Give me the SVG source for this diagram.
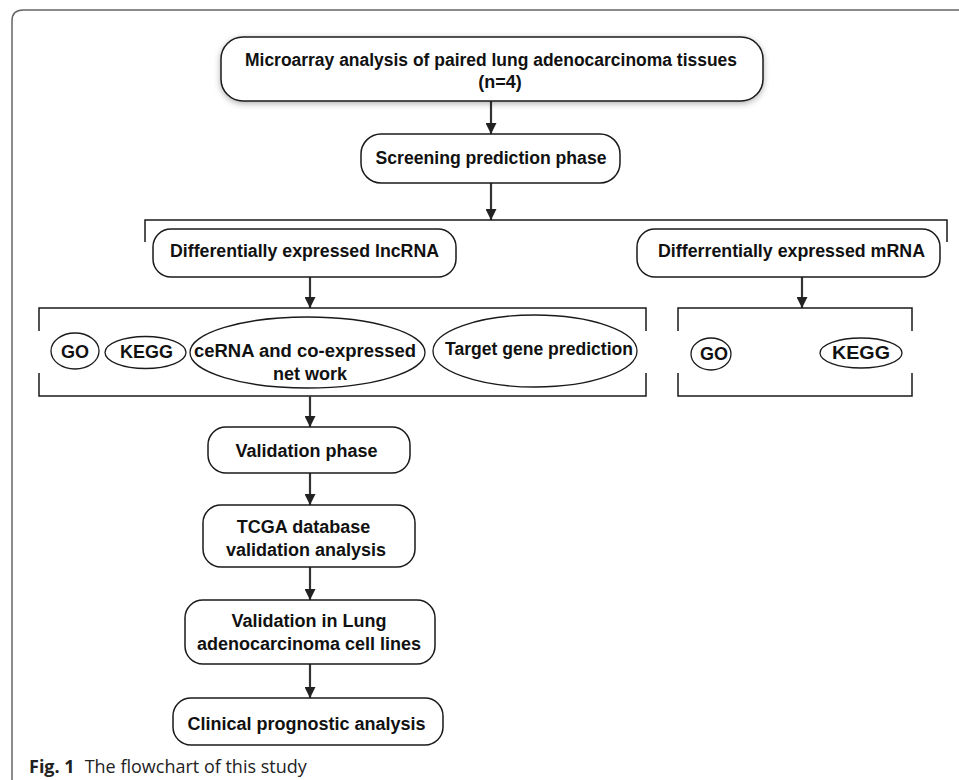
<svg xmlns="http://www.w3.org/2000/svg" width="959" height="780" viewBox="0 0 959 780">
<defs>
<style>
.box{fill:#fff;stroke:#1a1a1a;stroke-width:1.5}
.ell{fill:#fff;stroke:#1a1a1a;stroke-width:1.3}
.t{font-family:"Liberation Sans",Arial,sans-serif;font-weight:bold;font-size:18px;fill:#111;text-anchor:middle}
.br{fill:none;stroke:#1a1a1a;stroke-width:1.5}
.ar{stroke:#333;stroke-width:2.2;fill:none;marker-end:url(#ah)}
.cap{font-family:"Open Sans","Liberation Sans",sans-serif;font-size:18px;fill:#222}
</style>
<marker id="ah" viewBox="0 0 10 10" refX="10" refY="5" markerWidth="5" markerHeight="5" orient="auto" markerUnits="strokeWidth">
<path d="M0,0 L10,5 L0,10 Z" fill="#222"/>
</marker>
<filter id="sh" x="-10%" y="-30%" width="120%" height="160%">
<feDropShadow dx="0" dy="2" stdDeviation="3" flood-color="#000" flood-opacity="0.3"/>
</filter>
</defs>
<rect width="959" height="780" fill="#fff"/>
<path d="M12,780 V21 Q12,10 23,10 H959" fill="none" stroke="#666" stroke-width="1.5"/>

<g id="connectors">
<line class="ar" x1="491" y1="101" x2="491" y2="134"/>
<line class="ar" x1="491" y1="183" x2="491" y2="220"/>
<path class="br" d="M145,242 V220 H947 V242"/>
<line class="ar" x1="310" y1="277" x2="310" y2="308"/>
<line class="ar" x1="802" y1="277" x2="802" y2="308"/>
<path class="br" d="M39,331 V308 H646 V331 M39,373 V396 H646 V373"/>
<path class="br" d="M678,331 V308 H912 V331 M678,373 V396 H912 V373"/>
<line class="ar" x1="310" y1="396" x2="310" y2="427"/>
<line class="ar" x1="310" y1="473" x2="310" y2="505"/>
<line class="ar" x1="310" y1="567" x2="310" y2="600"/>
<line class="ar" x1="310" y1="664" x2="310" y2="698"/>
</g>

<g id="microarray">
<rect class="box" x="221" y="37" width="542" height="64" rx="22" filter="url(#sh)"/>
<text class="t" x="491" y="66" textLength="492" lengthAdjust="spacingAndGlyphs">Microarray analysis of paired lung adenocarcinoma tissues</text>
<text class="t" x="500" y="88">(n=4)</text>
</g>
<g id="screening">
<rect class="box" x="361" y="134" width="259" height="49" rx="20"/>
<text class="t" x="491" y="164" textLength="231" lengthAdjust="spacingAndGlyphs">Screening prediction phase</text>
</g>
<g id="lncrna">
<rect class="box" x="153" y="229" width="303" height="48" rx="18"/>
<text class="t" x="304.5" y="257" textLength="269" lengthAdjust="spacingAndGlyphs">Differentially expressed lncRNA</text>
</g>
<g id="mrna">
<rect class="box" x="637" y="229" width="303" height="48" rx="18"/>
<text class="t" x="791.5" y="257" textLength="267" lengthAdjust="spacingAndGlyphs">Differrentially expressed mRNA</text>
</g>
<g id="go1">
<ellipse class="ell" cx="75" cy="351" rx="24" ry="18"/>
<text class="t" x="75" y="357.5">GO</text>
</g>
<g id="kegg1">
<ellipse class="ell" cx="145.5" cy="352.5" rx="40.5" ry="16"/>
<text class="t" x="146.5" y="357.5" textLength="53" lengthAdjust="spacingAndGlyphs">KEGG</text>
</g>
<g id="cerna">
<ellipse class="ell" cx="307.5" cy="352.5" rx="117.5" ry="35.5"/>
<text class="t" x="305" y="356.5" textLength="222" lengthAdjust="spacingAndGlyphs">ceRNA and co-expressed</text>
<text class="t" x="310" y="379.5">net work</text>
</g>
<g id="target">
<ellipse class="ell" cx="535" cy="351" rx="102" ry="36"/>
<text class="t" x="539" y="354.5" textLength="188" lengthAdjust="spacingAndGlyphs">Target gene prediction</text>
</g>
<g id="go2">
<ellipse class="ell" cx="711" cy="354" rx="20" ry="16"/>
<text class="t" x="714" y="359.5">GO</text>
</g>
<g id="kegg2">
<ellipse class="ell" cx="861" cy="353" rx="41" ry="15"/>
<text class="t" x="861" y="359" textLength="58" lengthAdjust="spacingAndGlyphs">KEGG</text>
</g>
<g id="validation">
<rect class="box" x="208" y="427" width="202" height="46" rx="18"/>
<text class="t" x="306.5" y="456.5">Validation phase</text>
</g>
<g id="tcga">
<rect class="box" x="203" y="505" width="212" height="62" rx="18"/>
<text class="t" x="303.5" y="532.5">TCGA database</text>
<text class="t" x="306" y="555.5">validation analysis</text>
</g>
<g id="celllines">
<rect class="box" x="185" y="600" width="250" height="64" rx="18"/>
<text class="t" x="309" y="626.5">Validation in Lung</text>
<text class="t" x="309" y="649.5">adenocarcinoma cell lines</text>
</g>
<g id="clinical">
<rect class="box" x="173" y="698" width="270" height="47" rx="18"/>
<text class="t" x="306.5" y="729.5">Clinical prognostic analysis</text>
</g>
<text class="cap" x="29" y="773"><tspan font-weight="bold">Fig. 1</tspan><tspan dx="10">The flowchart of this study</tspan></text>
</svg>
